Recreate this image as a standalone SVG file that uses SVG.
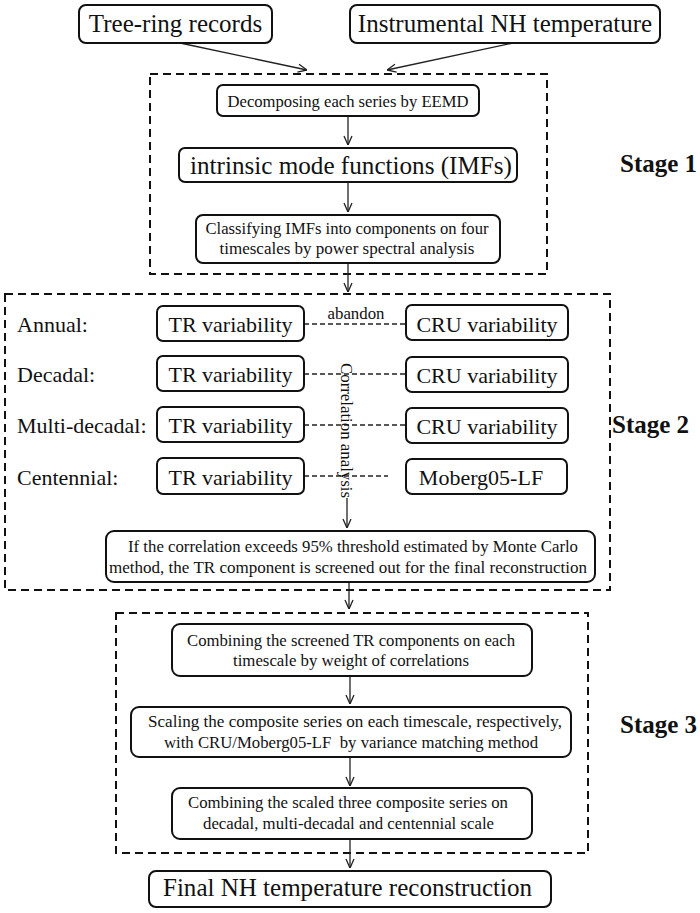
<svg xmlns="http://www.w3.org/2000/svg" width="700" height="913" viewBox="0 0 700 913" font-family="'Liberation Serif', 'Times New Roman', 'DejaVu Serif', serif">
<defs>
<style>
text{font-family:'Liberation Serif','Times New Roman','DejaVu Serif',serif;fill:#111}
.box{fill:#fff;stroke:#111;stroke-width:2}
.stage{fill:none;stroke:#111;stroke-width:2;stroke-dasharray:8,5}
.big{font-size:25px}
.mid{font-size:22px}
.sm{font-size:17px}
.lab{font-size:25px;font-weight:bold}
.c{text-anchor:middle}
.ln{fill:none;stroke:#222;stroke-width:1.3}
.dl{fill:none;stroke:#222;stroke-width:1.3;stroke-dasharray:5,3}
</style>
<marker id="ah" viewBox="0 0 10 10" refX="10" refY="5" markerWidth="10" markerHeight="10" markerUnits="userSpaceOnUse" orient="auto">
<path d="M1,1 L10,5 L1,9" fill="none" stroke="#222" stroke-width="1.3"/>
</marker>
</defs>
<rect width="700" height="913" fill="#fff"/>

<g id="stages">
<rect class="stage" x="150" y="74" width="397" height="200"/>
<rect class="stage" x="5" y="294" width="605" height="296"/>
<rect class="stage" x="116" y="613" width="472" height="240"/>
<text class="lab" x="620" y="172">Stage 1</text>
<text class="lab" x="612" y="433">Stage 2</text>
<text class="lab" x="620" y="733">Stage 3</text>
</g>

<g id="connectors">
<line class="ln" x1="180" y1="43" x2="307" y2="70" marker-end="url(#ah)"/>
<line class="ln" x1="513" y1="43" x2="387" y2="70" marker-end="url(#ah)"/>
<line class="ln" x1="348" y1="116" x2="348" y2="145" marker-end="url(#ah)"/>
<line class="ln" x1="348" y1="182" x2="348" y2="212" marker-end="url(#ah)"/>
<line class="ln" x1="348" y1="263" x2="348" y2="292" marker-end="url(#ah)"/>
<line class="dl" x1="304" y1="324" x2="406" y2="324"/>
<line class="dl" x1="304" y1="374" x2="406" y2="374"/>
<line class="dl" x1="304" y1="425" x2="406" y2="425"/>
<line class="dl" x1="304" y1="476" x2="388" y2="476"/>
<line class="ln" x1="347" y1="498" x2="347" y2="528" marker-end="url(#ah)"/>
<line class="ln" x1="349" y1="582" x2="349" y2="609" marker-end="url(#ah)"/>
<line class="ln" x1="350" y1="676" x2="350" y2="704" marker-end="url(#ah)"/>
<line class="ln" x1="350" y1="757" x2="350" y2="786" marker-end="url(#ah)"/>
<line class="ln" x1="350" y1="839" x2="350" y2="868" marker-end="url(#ah)"/>
<text class="sm" x="356" y="319" text-anchor="middle" textLength="57" lengthAdjust="spacingAndGlyphs">abandon</text>
<text class="sm" transform="translate(341,363) rotate(90)" textLength="135" lengthAdjust="spacingAndGlyphs">Correlation analysis</text>
</g>

<g id="tree-ring">
<rect class="box" x="79" y="5" width="193" height="38" rx="7"/>
<text class="big c" x="175.5" y="32">Tree-ring records</text>
</g>
<g id="instrumental">
<rect class="box" x="350" y="5" width="310" height="38" rx="7"/>
<text class="big c" x="505" y="32">Instrumental NH temperature</text>
</g>
<g id="decompose">
<rect class="box" x="217" y="85" width="262" height="31" rx="6"/>
<text class="sm c" x="348" y="107" textLength="241" lengthAdjust="spacingAndGlyphs">Decomposing each series by EEMD</text>
</g>
<g id="imfs">
<rect class="box" x="179" y="148" width="338" height="34" rx="6"/>
<text class="big c" x="351" y="174" textLength="322" lengthAdjust="spacingAndGlyphs">intrinsic mode functions (IMFs)</text>
</g>
<g id="classify">
<rect class="box" x="196" y="215" width="304" height="48" rx="7"/>
<text class="sm c" x="347" y="234" textLength="283" lengthAdjust="spacingAndGlyphs">Classifying IMFs into components on four</text>
<text class="sm c" x="347" y="254">timescales by power spectral analysis</text>
</g>

<g id="row-annual">
<text class="mid" x="17" y="332">Annual:</text>
<rect class="box" x="157" y="306" width="147" height="35" rx="6"/>
<text class="mid c" x="230.5" y="332">TR variability</text>
<rect class="box" x="406" y="305" width="162" height="35" rx="6"/>
<text class="mid c" x="487" y="332">CRU variability</text>
</g>
<g id="row-decadal">
<text class="mid" x="17" y="382">Decadal:</text>
<rect class="box" x="157" y="356" width="147" height="35" rx="6"/>
<text class="mid c" x="230.5" y="382">TR variability</text>
<rect class="box" x="406" y="357" width="162" height="35" rx="6"/>
<text class="mid c" x="487" y="383">CRU variability</text>
</g>
<g id="row-multidecadal">
<text class="mid" x="17" y="433">Multi-decadal:</text>
<rect class="box" x="157" y="407" width="147" height="35" rx="6"/>
<text class="mid c" x="230.5" y="433">TR variability</text>
<rect class="box" x="406" y="408" width="162" height="35" rx="6"/>
<text class="mid c" x="487" y="434">CRU variability</text>
</g>
<g id="row-centennial">
<text class="mid" x="17" y="485">Centennial:</text>
<rect class="box" x="157" y="458" width="147" height="36" rx="6"/>
<text class="mid c" x="230.5" y="485">TR variability</text>
<rect class="box" x="406" y="459" width="161" height="35" rx="6"/>
<text class="mid c" x="481" y="485">Moberg05-LF</text>
</g>

<g id="screen">
<rect class="box" x="106" y="531" width="489" height="51" rx="8"/>
<text class="sm c" x="353" y="552" textLength="450" lengthAdjust="spacingAndGlyphs">If the correlation exceeds 95% threshold estimated by Monte Carlo</text>
<text class="sm c" x="348" y="573" textLength="478" lengthAdjust="spacingAndGlyphs">method, the TR component is screened out for the final reconstruction</text>
</g>

<g id="combine">
<rect class="box" x="172" y="624" width="360" height="52" rx="8"/>
<text class="sm c" x="351" y="646" textLength="328" lengthAdjust="spacingAndGlyphs">Combining the screened TR components on each</text>
<text class="sm c" x="351" y="666" textLength="236" lengthAdjust="spacingAndGlyphs">timescale by weight of correlations</text>
</g>
<g id="scale">
<rect class="box" x="131" y="707" width="440" height="50" rx="8"/>
<text class="sm c" x="355" y="727" textLength="414" lengthAdjust="spacingAndGlyphs">Scaling the composite series on each timescale, respectively,</text>
<text class="sm c" x="351" y="748" textLength="374" lengthAdjust="spacingAndGlyphs" xml:space="preserve">with CRU/Moberg05-LF  by variance matching method</text>
</g>
<g id="combine-scaled">
<rect class="box" x="172" y="788" width="360" height="51" rx="8"/>
<text class="sm c" x="348" y="808" textLength="320" lengthAdjust="spacingAndGlyphs">Combining the scaled three composite series on</text>
<text class="sm c" x="348.5" y="829" textLength="291" lengthAdjust="spacingAndGlyphs">decadal, multi-decadal and centennial scale</text>
</g>
<g id="final">
<rect class="box" x="149" y="871" width="402" height="36" rx="7"/>
<text class="big c" x="347.5" y="896" textLength="369" lengthAdjust="spacingAndGlyphs">Final NH temperature reconstruction</text>
</g>
</svg>
